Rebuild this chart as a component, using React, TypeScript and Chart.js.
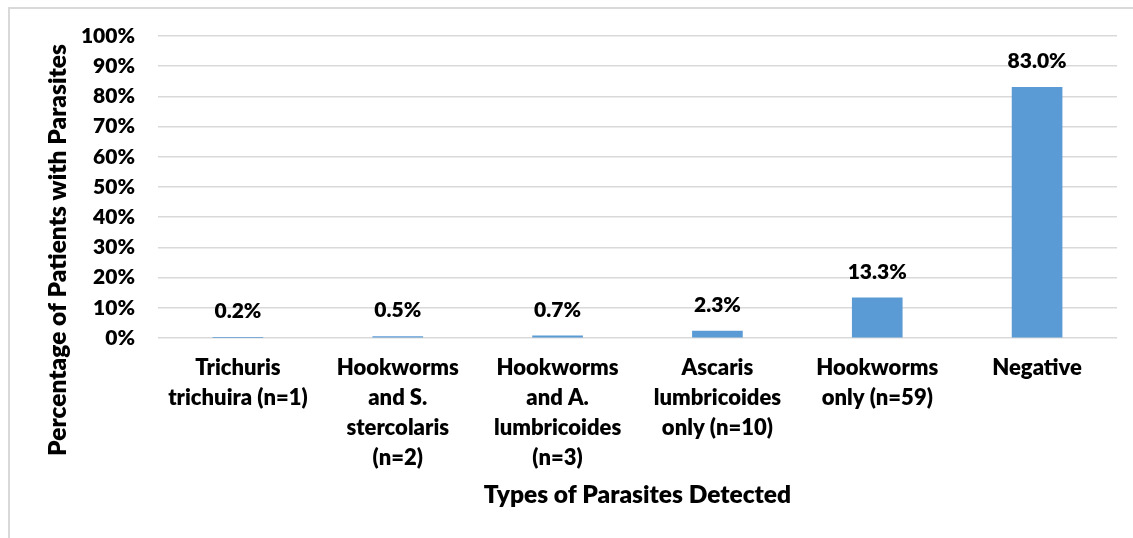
import React, { useEffect, useRef } from "react";
import { Chart, registerables } from "chart.js";

Chart.register(...registerables);

const categories: string[][] = [
  ["Trichuris", "trichuira (n=1)"],
  ["Hookworms", "and S.", "stercolaris", "(n=2)"],
  ["Hookworms", "and A.", "lumbricoides", "(n=3)"],
  ["Ascaris", "lumbricoides", "only (n=10)"],
  ["Hookworms", "only (n=59)"],
  ["Negative"],
];
const percentValues: number[] = [0.2, 0.5, 0.7, 2.3, 13.3, 83.0];
const yTickValues: number[] = [0, 10, 20, 30, 40, 50, 60, 70, 80, 90, 100];
const yTitle = "Percentage of Patients with Parasites";
const xTitle = "Types of Parasites Detected";

const FONT = "Lato";
const WEIGHT = "800";
const TEXT = "#000000";

const labelPlugin = {
  id: "barLabels",
  afterDatasetsDraw(chart: any) {
    const ctx = chart.ctx;
    const meta = chart.getDatasetMeta(0);
    ctx.save();
    ctx.font = `${WEIGHT} 21px ${FONT}`;
    ctx.fillStyle = TEXT;
    ctx.textAlign = "center";
    ctx.textBaseline = "middle";
    meta.data.forEach((bar: any, i: number) => {
      ctx.fillText(percentValues[i].toFixed(1) + "%", bar.x, bar.y - 26);
    });
    ctx.restore();
  },
};

const yTitlePlugin = {
  id: "yTitle",
  afterDraw(chart: any) {
    const ctx = chart.ctx;
    ctx.save();
    ctx.translate(58, 250);
    ctx.rotate(-Math.PI / 2);
    ctx.font = `${WEIGHT} 24.5px ${FONT}`;
    ctx.fillStyle = TEXT;
    ctx.textAlign = "center";
    ctx.textBaseline = "middle";
    ctx.fillText(yTitle, 0, 0);
    ctx.restore();
  },
};

export default function App() {
  const ref = useRef<HTMLCanvasElement | null>(null);
  useEffect(() => {
    if (!ref.current) return;
    const chart = new Chart(ref.current, {
      type: "bar",
      data: {
        labels: categories,
        datasets: [
          {
            data: percentValues,
            backgroundColor: "#5b9bd5",
            borderWidth: 0,
            barThickness: 50,
          },
        ],
      },
      options: {
        responsive: false,
        animation: false,
        layout: { padding: { left: 0, top: 36, right: 16, bottom: 0 } },
        plugins: {
          legend: { display: false },
          tooltip: { enabled: false },
        },
        scales: {
          x: {
            grid: { display: false, drawTicks: false },
            border: { display: false },
            ticks: {
              padding: 15,
              color: TEXT,
              font: { family: FONT, weight: WEIGHT as any, size: 22, lineHeight: 30 / 22 },
              maxRotation: 0,
              autoSkip: false,
            },
            title: {
              display: true,
              text: xTitle,
              color: TEXT,
              font: { family: FONT, weight: WEIGHT as any, size: 24.5, lineHeight: 1.2 },
              padding: { top: 0, bottom: 28 },
            },
            afterFit(scale: any) {
              scale.height = 200;
            },
          },
          y: {
            min: 0,
            max: 100,
            afterBuildTicks(scale: any) {
              scale.ticks = yTickValues.map((v) => ({ value: v }));
            },
            grid: { color: "#d9d9d9", lineWidth: 1.5, drawTicks: false },
            border: { display: false },
            ticks: {
              padding: 23,
              color: TEXT,
              font: { family: FONT, weight: WEIGHT as any, size: 21 },
              callback: (v: any) => v + "%",
            },
            afterFit(scale: any) {
              scale.width = 158;
            },
          },
        },
      },
      plugins: [labelPlugin, yTitlePlugin],
    });
    return () => chart.destroy();
  }, []);

  return (
    <div style={{ position: "absolute", left: 0, top: 0, width: 1133, height: 538, background: "#ffffff", overflow: "hidden" }}>
      <div
        style={{
          position: "absolute",
          left: 8,
          top: 7,
          right: -10,
          bottom: -10,
          borderLeft: "2px solid #d9d9d9",
          borderTop: "2px solid #d9d9d9",
        }}
      />
      <canvas ref={ref} width={1133} height={538} style={{ position: "absolute", left: 0, top: 0 }} />
    </div>
  );
}
